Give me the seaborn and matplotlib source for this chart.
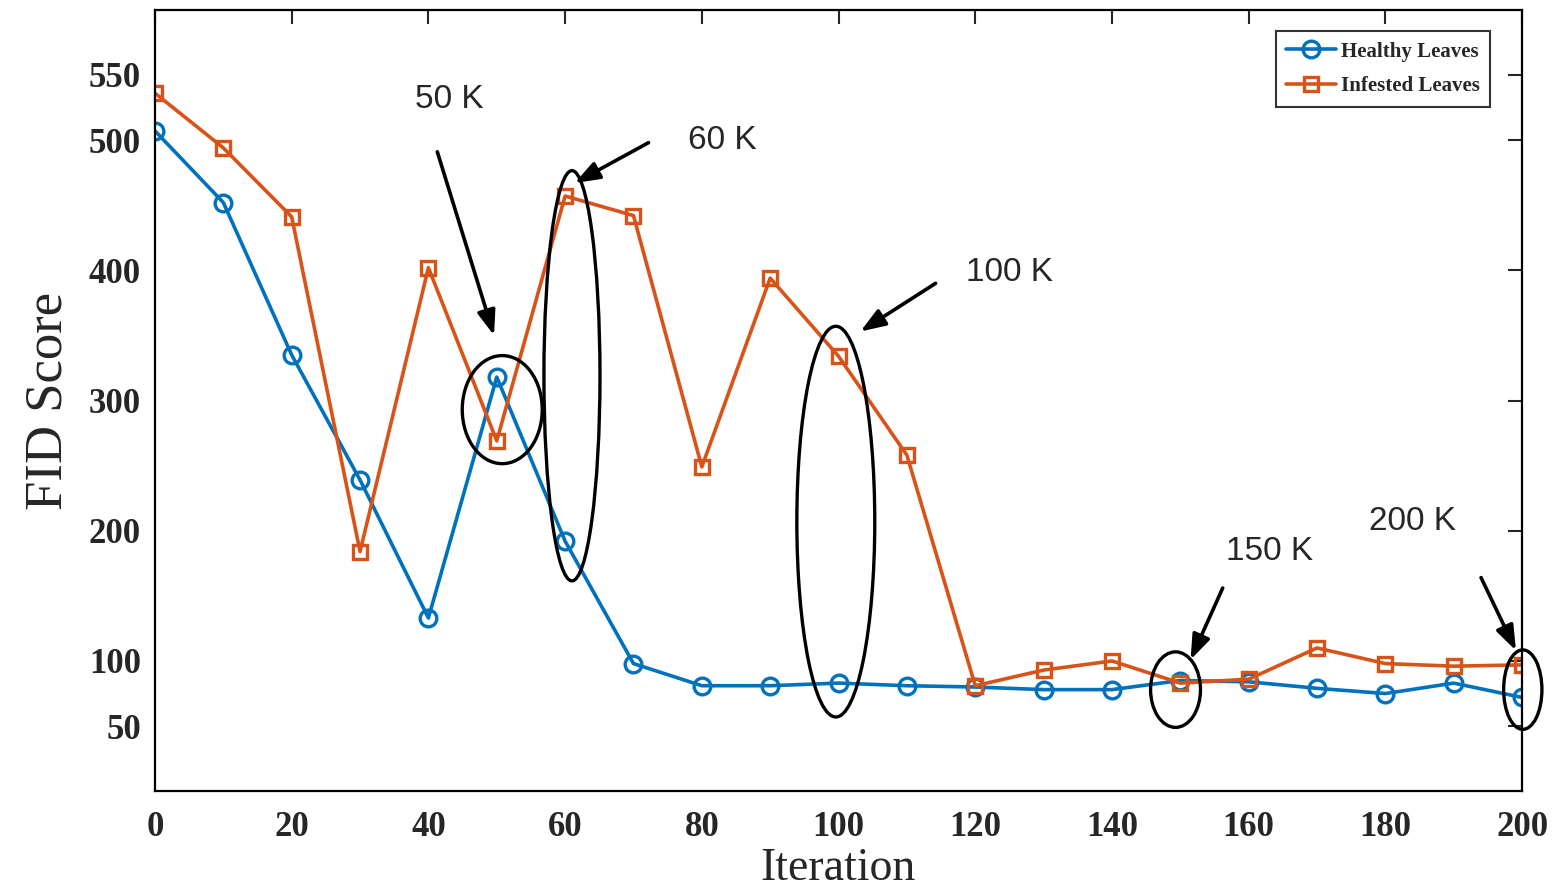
import pandas as pd
import matplotlib
matplotlib.use("Agg")
import matplotlib.pyplot as plt
from matplotlib.patches import Ellipse
import seaborn as sns

# data
iterations = [0, 10, 20, 30, 40, 50, 60, 70, 80, 90, 100,
              110, 120, 130, 140, 150, 160, 170, 180, 190, 200]
healthy = [507, 452, 335, 239, 133, 318, 192, 98, 81, 81, 83,
           81, 80, 78, 78, 85, 84, 79, 75, 83, 72]
infested = [536, 494, 441, 184, 402, 269, 457, 442, 249, 394, 334,
            258, 81, 93, 100, 83, 86, 110, 98, 96, 97]
series_names = ["Healthy Leaves", "Infested Leaves"]
x_ticks = list(range(0, 201, 20))
y_ticks = [50, 100, 200, 300, 400, 500, 550]

# highlighted checkpoints: label, ellipse (cx, cy, w, h), arrow tail, arrow head, text pos
highlights = [
    ("50 K", (50.8, 293, 11.7, 83), (41.3, 491), (49.6, 350), (43.0, 531)),
    ("60 K", (61.0, 319, 8.2, 315), (72.2, 498), (61.4, 467), (83.0, 500)),
    ("100 K", (99.6, 207, 11.4, 300), (114.2, 390), (103.2, 353), (125.0, 398)),
    ("150 K", (149.3, 78, 7.3, 58), (156.2, 156), (151.5, 101), (163.0, 184)),
    ("200 K", (200.1, 78, 5.6, 61), (194.0, 164), (199.1, 108), (184.0, 207)),
]

df = pd.DataFrame({
    "Iteration": iterations * 2,
    "FID": healthy + infested,
    "series": [series_names[0]] * len(iterations) + [series_names[1]] * len(iterations),
})

sns.set_style("white")
plt.rcParams["font.family"] = ["Liberation Serif", "DejaVu Serif"]

fig = plt.figure(figsize=(15.53, 8.93), dpi=100)
ax = fig.add_axes([0.0998, 0.114, 0.8803, 0.875])

palette = {series_names[0]: "#0072BD", series_names[1]: "#D95319"}
markers = {series_names[0]: "o", series_names[1]: "s"}
sns.lineplot(data=df, x="Iteration", y="FID", hue="series", style="series",
             palette=palette, markers=markers, dashes=False, linewidth=2.6,
             ax=ax)

ax.set_xlim(0, 200)
ax.set_ylim(0, 600)
ax.set_xticks(x_ticks)
ax.set_yticks(y_ticks)
ax.tick_params(direction="in", length=10, width=1.5, top=True, right=True,
               labelsize=25)
ax.tick_params(axis="x", pad=14)
ax.tick_params(axis="y", pad=10)
for lab in ax.get_xticklabels() + ax.get_yticklabels():
    lab.set_fontweight("bold")
for sp in ax.spines.values():
    sp.set_linewidth(1.6)
    sp.set_color("black")

ax.set_xlabel("Iteration", fontsize=33, labelpad=3)
ax.set_ylabel("FID Score", fontsize=38, labelpad=12)

leg = ax.legend(loc="upper right", bbox_to_anchor=(0.984, 0.986), frameon=True,
                fancybox=False, edgecolor="black", handlelength=2.4,
                handletextpad=0.2, borderpad=0.5, labelspacing=0.7,
                prop={"family": "Liberation Serif", "weight": "bold", "size": 15})
leg.get_frame().set_linewidth(1.5)

# hollow markers in the line colour (after the legend so handles match)
for line in ax.lines + leg.get_lines():
    c = line.get_color()
    line.set_markeredgecolor(c)
    line.set_markerfacecolor("none")
    line.set_markeredgewidth(2.4)
    line.set_markersize(12 if line.get_marker() == "o" else 10)
    line.set_linestyle("-")

for label, (cx, cy, w, h), tail, head, tpos in highlights:
    ax.add_patch(Ellipse((cx, cy), w, h, fill=False, edgecolor="black",
                         linewidth=2.4, zorder=5, clip_on=False))
    ax.annotate("", xy=head, xytext=tail, annotation_clip=False,
                arrowprops=dict(arrowstyle="-|>,head_length=1.5,head_width=0.55",
                                color="black", lw=2.6, shrinkA=0, shrinkB=0),
                zorder=6)
    ax.text(tpos[0], tpos[1], label, fontsize=24, ha="center", va="center",
            family=["Liberation Sans", "DejaVu Sans"], zorder=6)

fig.savefig("out.png", dpi=100)
